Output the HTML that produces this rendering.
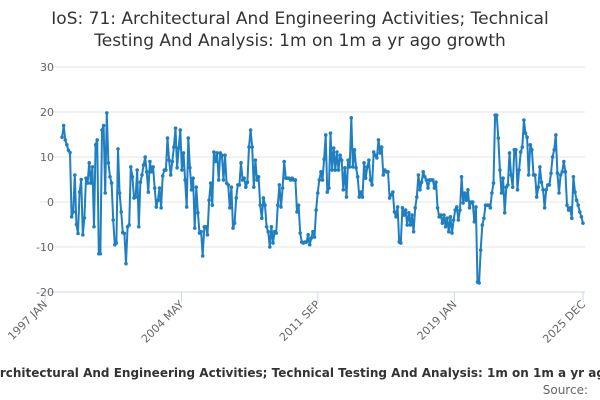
<!DOCTYPE html>
<html><head><meta charset="utf-8">
<style>
body{margin:0;background:#fff;}
svg{display:block;font-family:"DejaVu Sans","Liberation Sans",sans-serif;}
</style></head>
<body>
<svg id="chart" width="600" height="400">
<text x="300" y="24" text-anchor="middle" font-size="17" fill="#333">IoS: 71: Architectural And Engineering Activities; Technical</text>
<text x="300" y="46" text-anchor="middle" font-size="17" fill="#333">Testing And Analysis: 1m on 1m a yr ago growth</text>
<g id="grid"></g><g id="xaxis"></g><g id="series"></g>
<text x="300" y="377" text-anchor="middle" font-size="12" font-weight="bold" fill="#333">IoS: 71: Architectural And Engineering Activities; Technical Testing And Analysis: 1m on 1m a yr ago growth</text>
<text x="588" y="394" text-anchor="end" font-size="12" fill="#666">Source:</text>
</svg>
<script>
const yTicks=[30,20,10,0,-10,-20];
const xTickLabels=["1997 JAN","2004 MAY","2011 SEP","2019 JAN","2025 DEC"];
const xTickMonths=[0,88,176,264,347];
const firstMonth=11;
const values=[14.4,17,13.8,12.7,11.5,11,-3.3,-2.2,6,-5,-7,2.2,5,-7.3,-3.5,5.3,4.2,8.7,4.2,7.8,-5.5,12.7,13.8,-11.5,-11.5,16,17,2,19.8,8.7,5.6,4.2,-4,-9.5,-9.1,11.8,2,-2.2,-6.8,-7,-13.7,-5.5,-5.1,7.8,5.6,0.9,1.1,7.1,-5.5,4.4,6,8.2,10,6.7,2.2,9,6.7,7.8,3.1,-1.1,0.4,3.1,-1.3,5.8,7.1,7.1,14.2,9.3,
6,9,12.2,16.4,7.6,12,16,7.1,10.9,4.9,-1.1,14.2,7.6,2.7,5.3,-5.8,3.3,-2.4,-6.9,-6.6,-12,-5.5,-5.5,-7.3,0.4,4.2,-0.7,11.1,9,10.9,4.9,10.9,10.4,4.9,10.4,4.2,3.8,-1.3,3.3,-5.8,-4.7,0.9,3.8,3.8,8.7,4.9,5.3,3.3,4.4,12.2,16,12.2,3.3,9.3,4.9,5.6,-0.7,-3.6,0.9,-0.7,-5.5,-6.6,-10,-5.5,-9.1,-6.6,-6.9,-0.7,3.8,-1.1,3.1,9,5.3,5.3,5.3,4.9,5.3,4.9,4.9,-2.2,-0.7,-6.9,-8.9,-9.1,-8.9,
-8.9,-7.3,-9.5,-8,-6.6,-7.8,-1.8,2,4.9,6.7,4.9,9.5,14.9,2.2,3.1,15.3,7.1,12,7.1,11.1,7.1,10.4,9.3,2.7,7.6,1.1,9.3,7.8,18.7,7.8,11.6,7.6,5.6,1.1,2.2,1.1,8.7,5.3,7.8,9.3,4.9,3.8,11.1,10.4,9.8,13.8,10.9,12.2,6,7.1,6.7,6.7,0.9,1.6,2.2,-2.2,-3.3,-1.1,-8.9,-9.1,-1.3,-2.9,-1.8,-5.1,-2.4,-5.1,-2.9,-6.6,-1.3,1.1,6,2.7,4.4,6.7,5.6,4.9,3.1,4.9,4.9,4.9,3.1,4.4,-1.3,-3.3,-2.9,-4.7,-2.9,-5.5,
-3.6,-6.6,-3.3,-6.9,-4,-1.8,-1.1,-4,-1.8,5.6,-0.2,2,0.4,2.7,-1.3,0,0,-4.4,-1.1,-17.8,-18,-10.7,-5.1,-3.6,-0.7,-0.7,-0.7,-1.3,2,4.2,19.3,19.3,14.2,7.1,2,5.3,-2.4,3.3,3.8,10.9,6,3.3,11.6,11.6,2.7,7.1,11.1,12.2,18.2,15.3,14.4,6,12.7,11.6,6,6,1.1,3.3,7.8,4.4,2.7,-1.3,2.7,3.8,3.8,6.4,10,11.6,14.9,6.4,2,6,6.7,9,6.7,-0.7,-1.8,-1.3,-3.6,5.6,2.2,0.4,-0.7,-2.2,-3.3,-4.7];
const NS="http://www.w3.org/2000/svg";
const X0=45,X1=583,Y0=292,Y1=67,VMIN=-20,VMAX=30,LASTM=347;
const xs=m=>X0+m*(X1-X0)/LASTM;
const ys=v=>Y0-(v-VMIN)*(Y0-Y1)/(VMAX-VMIN);
function mk(t,a){const e=document.createElementNS(NS,t);for(const k in a)e.setAttribute(k,a[k]);return e;}
const grid=document.getElementById('grid');
yTicks.forEach(v=>{
  const l=mk('line',{x1:40,x2:585,y1:ys(v),y2:ys(v),stroke:v===-20?'#ccd6eb':'#e6e6e6','stroke-width':1});
  
  
  grid.appendChild(l);
  const t=mk('text',{x:54,y:ys(v)+4,'text-anchor':'end','font-size':11,fill:'#666'});
  t.textContent=v;
  
  
  grid.appendChild(t);
});
const xa=document.getElementById('xaxis');
xTickLabels.forEach((lab,i)=>{
  const x=xs(xTickMonths[i]);
  const tk=mk('line',{x1:x,x2:x,y1:292,y2:302,stroke:'#ccd6eb'});
  
  
  xa.appendChild(tk);
  const t=mk('text',{x:x+3,y:305,'text-anchor':'end','font-size':11,fill:'#666',transform:`rotate(-45 ${x+3} 305)`});
  t.textContent=lab;
  
  
  xa.appendChild(t);
});
const sg=document.getElementById('series');
const step=(LASTM-firstMonth)/(values.length-1);
const pts=values.map((v,i)=>[xs(firstMonth+i*step),ys(v)]);
const path=mk('path',{d:'M'+pts.map(p=>p[0].toFixed(1)+','+p[1].toFixed(1)).join('L'),fill:'none',stroke:'#1f7fc1','stroke-width':2,'stroke-linejoin':'round'});


sg.appendChild(path);
pts.forEach(p=>{
  const c=mk('circle',{cx:p[0],cy:p[1],r:1.8,fill:'#1f7fc1'});
  
  
  sg.appendChild(c);
});
</script>
</body></html>
